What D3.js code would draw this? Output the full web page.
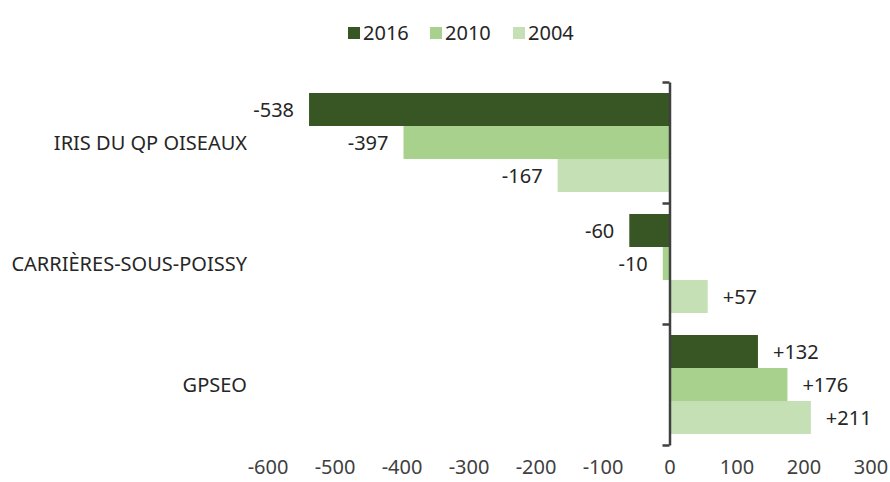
<!DOCTYPE html>
<html>
<head>
<meta charset="utf-8">
<script src="https://cdn.jsdelivr.net/npm/d3@7"></script>
<style>
  html, body { margin: 0; padding: 0; background: #ffffff; }
  svg { display: block; }
  text { font-family: "Noto Sans", sans-serif; }
</style>
</head>
<body>
<svg id="chart" width="890" height="482"></svg>
<script>
const categories = ["IRIS DU QP OISEAUX", "CARRIÈRES-SOUS-POISSY", "GPSEO"];
const seriesNames = ["2016", "2010", "2004"];
const values2016 = [-538, -60, 132];
const values2010 = [-397, -10, 176];
const values2004 = [-167, 57, 211];
const xTicks = [-600, -500, -400, -300, -200, -100, 0, 100, 200, 300];
const colors = ["#375623", "#A9D18E", "#C5E0B4"];

const seriesValues = [values2016, values2010, values2004];
const rows = [];
categories.forEach((c, i) => {
  seriesNames.forEach((s, j) => rows.push({ cat: c, series: s, value: seriesValues[j][i] }));
});

const svg = d3.select("#chart");
const x = d3.scaleLinear().domain([-600, 300]).range([267.5, 870.5]);
const y = d3.scaleBand().domain(categories).range([82, 445]).paddingInner(0).paddingOuter(0);
const yInner = d3.scaleBand().domain(seriesNames).range([0, y.bandwidth()]).paddingInner(0).paddingOuter(1 / 3);
const color = d3.scaleOrdinal().domain(seriesNames).range(colors);

// bars
svg.append("g").selectAll("rect").data(rows).join("rect")
  .attr("x", d => x(Math.min(0, d.value)))
  .attr("y", d => y(d.cat) + yInner(d.series))
  .attr("width", d => Math.abs(x(d.value) - x(0)))
  .attr("height", yInner.bandwidth())
  .attr("fill", d => color(d.series));

// value labels
const fmt = v => (v > 0 ? "+" : "") + String(v);
svg.append("g").selectAll("text").data(rows).join("text")
  .attr("x", d => d.value < 0 ? x(d.value) - 15 : x(d.value) + 15)
  .attr("y", d => y(d.cat) + yInner(d.series) + yInner.bandwidth() / 2)
  .attr("dy", "0.35em")
  .attr("text-anchor", d => d.value < 0 ? "end" : "start")
  .attr("font-size", 20)
  .attr("fill", "#262626")
  .text(d => fmt(d.value));

// vertical axis with ticks at group boundaries
const yEdge = d3.scaleLinear().domain([0, categories.length]).range([82, 445]);
const yAxis = svg.append("g")
  .attr("transform", `translate(${x(0)},0)`)
  .call(d3.axisLeft(yEdge).tickValues(d3.range(categories.length + 1)).tickSize(7).tickSizeOuter(0).tickFormat(""));
yAxis.selectAll("path, line").attr("stroke", "#404040").attr("stroke-width", 2.5);

// category labels
svg.append("g").selectAll("text").data(categories).join("text")
  .attr("x", 247)
  .attr("y", d => y(d) + y.bandwidth() / 2)
  .attr("dy", "0.35em")
  .attr("text-anchor", "end")
  .attr("font-size", 20)
  .attr("fill", "#262626")
  .text(d => d);

// x axis
const xAxis = svg.append("g")
  .attr("transform", "translate(0,458)")
  .call(d3.axisBottom(x).tickValues(xTicks).tickSize(0).tickFormat(d => String(d)));
xAxis.select(".domain").remove();
xAxis.selectAll("text").attr("font-size", 20).attr("fill", "#404040").attr("font-family", "Noto Sans, sans-serif").attr("dy", "0.71em").attr("y", 2);

// legend
const legendX = [348, 430, 513];
const legend = svg.append("g").selectAll("g").data(seriesNames).join("g")
  .attr("transform", (d, i) => `translate(${legendX[i]},27)`);
legend.append("rect").attr("width", 12).attr("height", 12).attr("fill", d => color(d));
legend.append("text").attr("x", 15).attr("y", 6).attr("dy", "0.35em")
  .attr("font-size", 20).attr("fill", "#262626").text(d => d);
</script>
</body>
</html>
